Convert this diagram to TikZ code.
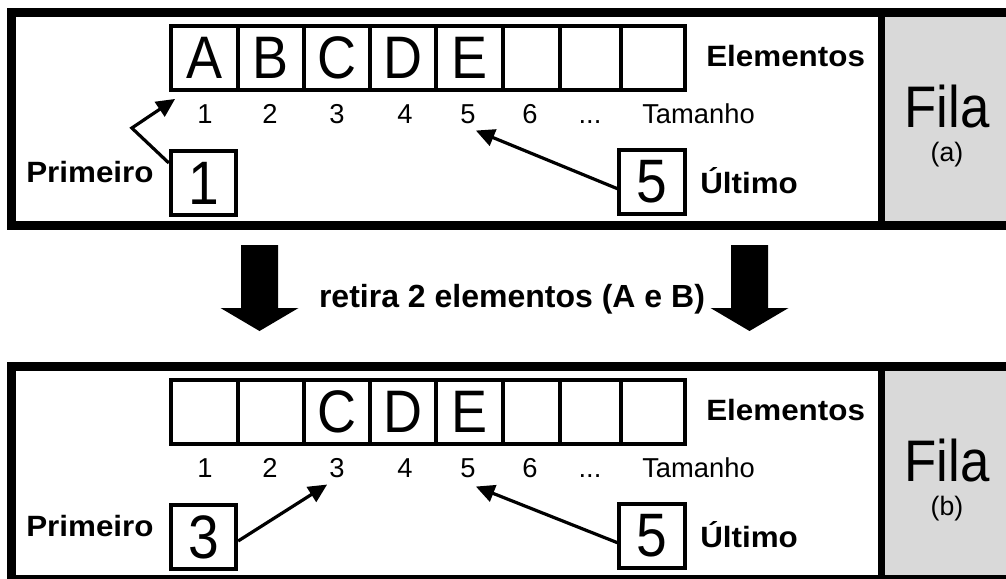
\documentclass[tikz,border=0pt]{standalone}
\usepackage{fontspec}
\setmainfont{Liberation Sans}
\usetikzlibrary{arrows.meta}
\newcommand{\narrow}[1]{\scalebox{0.9}[1]{#1}}
\newcommand{\wide}[1]{\scalebox{1.07}[1]{#1}}
\tikzset{
  frame/.style={line width=6.75pt},
  divider/.style={line width=5.25pt},
  filabg/.style={fill=black!15},
  cell/.style={draw, line width=3pt, minimum height=48pt, inner sep=0pt, outer sep=0pt},
  letter/.style={font=\fontsize{45pt}{50pt}\selectfont, inner sep=0pt},
  ptrbox/.style={draw, line width=3pt, minimum width=49pt, minimum height=48pt, inner sep=0pt,
    font=\fontsize{46pt}{50pt}\selectfont},
  index/.style={font=\fontsize{20.5pt}{24pt}\selectfont, inner sep=0pt, anchor=base},
  label/.style={font=\fontsize{22pt}{26pt}\selectfont\bfseries, inner sep=0pt, anchor=base west},
  title/.style={font=\fontsize{44pt}{48pt}\selectfont, inner sep=0pt, anchor=base},
  tagtext/.style={font=\fontsize{20pt}{24pt}\selectfont, inner sep=0pt, anchor=base},
  note/.style={font=\fontsize{24pt}{28pt}\selectfont\bfseries, inner sep=0pt, anchor=base},
  ptr/.style={line width=2.4pt, -{Triangle[length=14pt,width=13pt]}}
}
\begin{document}
\begin{tikzpicture}[x=0.75pt, y=-0.75pt]
  \useasboundingbox (0,0) rectangle (1006,578);
  % the queue before and after
  \foreach \pan/\dy/\tag/\first in {a/0/(a)/1, b/354/(b)/3} {
    \begin{scope}[shift={(0,\dy)}]
      \fill[filabg] (881,12.5) rectangle (1012,225.5);
      \draw[frame] (11.5,12.5) rectangle (1012,225.5);
      \draw[divider] (881,12.5) -- (881,225.5);
      % array cells
      \foreach \i/\xa/\xb in {1/171/238, 2/238/304, 3/304/370, 4/370/436,
                              5/436/502.5, 6/502.5/559.5, 7/559.5/620.5, 8/620.5/684.5} {
        \node[cell, minimum width={(\xb-\xa)*0.75pt}] (c\pan\i) at ({(\xa+\xb)/2},57.5) {};
      }
      % positions
      \foreach \i/\x in {1/205, 2/270, 3/337, 4/405, 5/468, 6/530} {
        \node[index] (n\pan\i) at (\x,123) {\i};
      }
      \node[index] (dots\pan) at (590,123) {...};
      \node[index, anchor=base west] (size\pan) at (642,123) {Tamanho};
      \node[label] (elem\pan) at (706,66.7) {\wide{Elementos}};
      \node[label] (firstlbl\pan) at (26,182) {\wide{Primeiro}};
      \node[label] (lastlbl\pan) at (700,193) {\wide{Último}};
      \node[title] (fila\pan) at (947,127) {\narrow{Fila}};
      \node[tagtext] (tag\pan) at (947,161) {\tag};
      % first and last pointers
      \node[ptrbox] (first\pan) at (203.5,183) {\narrow{\first}};
      \node[ptrbox] (last\pan) at (652,182) {\narrow{5}};
    \end{scope}
  }
  % stored elements
  \foreach \i/\l in {1/A, 2/B, 3/C, 4/D, 5/E} {
    \node[letter] (la\i) at (ca\i) {\narrow{\l}};
  }
  \foreach \i/\l in {3/C, 4/D, 5/E} {
    \node[letter] (lb\i) at (cb\i) {\narrow{\l}};
  }
  % pointers to the positions
  \draw[ptr] ([yshift=-10.5pt]firsta.north west) -- ++(-37,-35) -- ([shift={(-22,-5)}]na1.north west);
  \draw[ptr] ([yshift=-5pt]lasta.west) -- ([shift={(0,7)}]na5.south east);
  \draw[ptr] ([yshift=-3pt]firstb.east) -- ([shift={(-2,7)}]nb3.south west);
  \draw[ptr] ([yshift=-5pt]lastb.west) -- ([shift={(0,9)}]nb5.south east);
  % dequeue step
  \foreach \x in {259.5, 749.5} {
    \fill ({\x-18.5},245) -- ({\x+18.5},245) -- ({\x+18.5},308) -- ({\x+39},308)
      -- (\x,331) -- ({\x-39},308) -- ({\x-18.5},308) -- cycle;
  }
  \node[note] (step) at (512,307) {retira 2 elementos (A e B)};
\end{tikzpicture}
\end{document}
